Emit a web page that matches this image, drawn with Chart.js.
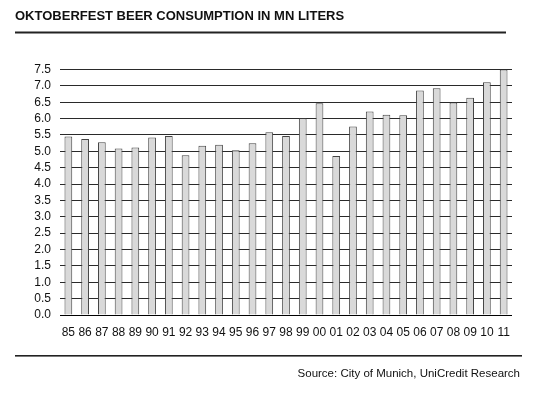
<!DOCTYPE html>
<html>
<head>
<meta charset="utf-8">
<script src="https://cdn.jsdelivr.net/npm/chart.js@4"></script>
<style>
  html, body { margin: 0; padding: 0; background: #fff; }
  #wrap { width: 538px; height: 393px; position: relative; }
</style>
</head>
<body>
<div id="wrap"><canvas id="myChart" width="538" height="393"></canvas></div>
<script>
// years (two digit labels) and consumption in mn liters
const years = ["85","86","87","88","89","90","91","92","93","94","95","96","97","98","99",
               "00","01","02","03","04","05","06","07","08","09","10","11"];
const consumption = [5.45, 5.38, 5.28, 5.09, 5.12, 5.42, 5.47, 4.88, 5.17, 5.20, 5.03, 5.25, 5.58,
                     5.47, 6.01, 6.47, 4.86, 5.76, 6.22, 6.12, 6.10, 6.86, 6.93, 6.49, 6.64, 7.11, 7.50];
const yTicks = [0, 0.5, 1, 1.5, 2, 2.5, 3, 3.5, 4, 4.5, 5, 5.5, 6, 6.5, 7, 7.5];

const titleText = "OKTOBERFEST BEER CONSUMPTION IN MN LITERS";
const sourceText = "Source: City of Munich, UniCredit Research";

const FONT = "'Liberation Sans', Arial, Helvetica, sans-serif";

// title, rules and source note
const frame = {
	id: 'frame',
	afterDraw(chart) {
		const c = chart.ctx;
		c.save();
		c.fillStyle = '#111';
		c.font = 'bold 13px ' + FONT;
		c.textBaseline = 'alphabetic';
		c.textAlign = 'left';
		c.fillText(titleText, 15, 20);

		c.fillStyle = '#222';
		c.fillRect(15, 31.5, 491, 2);
		c.fillRect(15, 355, 507, 1.6);

		c.font = '11.5px ' + FONT;
		c.textAlign = 'right';
		c.fillStyle = '#111';
		c.fillText(sourceText, 520, 377);
		c.restore();
	}
};

new Chart(document.getElementById('myChart').getContext('2d'), {
	type: 'bar',
	data: {
		labels: years,
		datasets: [{
			data: consumption,
			backgroundColor: '#d9d9d9',
			borderColor: '#444',
			borderWidth: 1,
			barPercentage: 0.55,
			categoryPercentage: 0.84
		}]
	},
	options: {
		responsive: false,
		animation: false,
		devicePixelRatio: 1,
		layout: { padding: { left: 0, right: 26, top: 69.5, bottom: 48 } },
		plugins: {
			legend: { display: false },
			title: { display: false },
			tooltip: { enabled: false }
		},
		scales: {
			x: {
				grid: { display: false, drawTicks: false },
				border: { display: false },
				ticks: {
					color: '#111',
					font: { family: FONT, size: 12 },
					padding: 10,
					maxRotation: 0,
					autoSkip: false
				},
				afterFit(scale) { scale.height = 30; }
			},
			y: {
				min: 0,
				max: 7.5,
				afterBuildTicks(scale) { scale.ticks = yTicks.map(v => ({ value: v })); },
				grid: {
					drawTicks: false,
					color: (ctx) => ctx.tick && ctx.tick.value === 0 ? '#000' : '#2a2a2a',
					lineWidth: 1
				},
				border: { display: false },
				ticks: {
					color: '#111',
					font: { family: FONT, size: 12 },
					padding: 9,
					autoSkip: false,
					callback: (v) => Number(v).toFixed(1)
				},
				afterFit(scale) { scale.width = 60; }
			}
		}
	},
	plugins: [frame]
});
</script>
</body>
</html>
